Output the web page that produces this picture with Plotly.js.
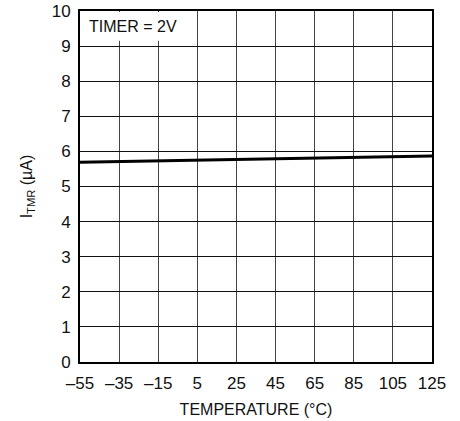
<!DOCTYPE html>
<html>
<head>
<meta charset="utf-8">
<script src="https://cdn.plot.ly/plotly-3.0.1.min.js"></script>
<style>html,body{margin:0;padding:0;background:#fff;}#chart{width:460px;height:421px;}</style>
</head>
<body>
<div id="chart"></div>
<script>
var temperature = [-55, -15, 25, 65, 105, 125];
var itmr = [5.69, 5.73, 5.77, 5.81, 5.85, 5.87];
var xTickVals = [-55, -35, -15, 5, 25, 45, 65, 85, 105, 125];
var xTickText = ['\u201355', '\u201335', '\u201315', '5', '25', '45', '65', '85', '105', '125'];
var yTickVals = [0, 1, 2, 3, 4, 5, 6, 7, 8, 9, 10];

var fontFam = '"Liberation Sans Narrow", "Arial Narrow", "Liberation Sans", Arial, sans-serif';

var trace = {
  x: temperature, y: itmr, type: 'scatter', mode: 'lines',
  line: {color: '#000', width: 3}, hoverinfo: 'skip', showlegend: false
};

var layout = {
  width: 460, height: 421,
  margin: {l: 80, r: 28, t: 10.5, b: 59},
  paper_bgcolor: '#fff', plot_bgcolor: '#fff',
  font: {family: fontFam, size: 17, color: '#111'},
  xaxis: {
    range: [-55, 125], tickvals: xTickVals, ticktext: xTickText,
    showgrid: true, gridcolor: '#444', gridwidth: 1,
    showline: true, linecolor: '#000', linewidth: 2, mirror: true,
    zeroline: false, ticks: '', ticklabelstandoff: 5,
    tickfont: {family: fontFam, size: 17, color: '#111'},
    title: {text: 'TEMPERATURE (\u00B0C)', font: {family: fontFam, size: 16, color: '#111'}, standoff: 11}
  },
  yaxis: {
    range: [0, 10], tickvals: yTickVals,
    showgrid: true, gridcolor: '#111', gridwidth: 1,
    showline: true, linecolor: '#000', linewidth: 2, mirror: true,
    zeroline: false, ticks: '', ticklabelstandoff: 4,
    tickfont: {family: fontFam, size: 17, color: '#111'},
    title: {text: 'I<sub>TMR</sub> (\u00B5A)', font: {family: fontFam, size: 16, color: '#111'}, standoff: 15}
  },
  shapes: [{
    type: 'rect', xref: 'paper', yref: 'paper',
    x0: 0.003, x1: 0.295, y0: 0.915, y1: 0.997,
    fillcolor: '#fff', line: {width: 0}, layer: 'above'
  }],
  annotations: [{
    xref: 'paper', yref: 'paper', x: 0.02, y: 0.985,
    xanchor: 'left', yanchor: 'top', showarrow: false,
    text: 'TIMER = 2V', font: {family: fontFam, size: 16, color: '#111'}
  }]
};

Plotly.newPlot('chart', [trace], layout, {staticPlot: true, displayModeBar: false});
</script>
</body>
</html>
